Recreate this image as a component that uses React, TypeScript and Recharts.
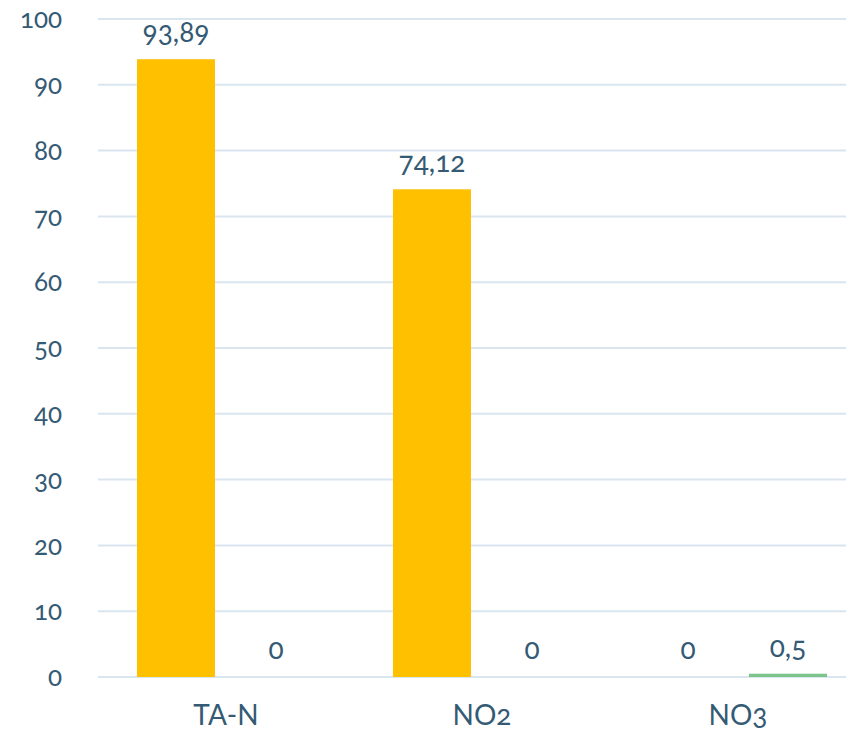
import React from "react";
import { BarChart, Bar, XAxis, YAxis, CartesianGrid, LabelList } from "recharts";

const categories = ["TA-N", "NO2", "NO3"];
const seriesA = [93.89, 74.12, 0];
const seriesB = [0, 0, 0.5];
const yTicks = [0, 10, 20, 30, 40, 50, 60, 70, 80, 90, 100];

const data = categories.map((name, i) => ({ name, a: seriesA[i], b: seriesB[i] }));

const textColor = "#345A74";
const font = "Lato, 'Open Sans', sans-serif";

const fmt = (v: any) => String(v).replace(".", ",");

// zero-valued bars still need their "0" label, so give them 1px and draw nothing
const zeroMin = (v: any) => (v === 0 ? 1 : 0);
const BarShape = (props: any) => {
  const { x, y, width, height, fill, value } = props;
  const v = Array.isArray(value) ? value[1] - value[0] : value;
  if (!v) return <g />;
  return <rect x={x} y={y} width={width} height={height} fill={fill} />;
};

export default function App() {
  return (
    <div
      style={{
        position: "absolute",
        left: 0,
        top: 0,
        width: 846,
        height: 732,
        overflow: "hidden",
        background: "#fff",
        fontFamily: font,
        fontVariantNumeric: "oldstyle-nums",
      }}
    >
      <BarChart
        width={866}
        height={732}
        data={data}
        margin={{ top: 19, right: 0, bottom: 0, left: 0 }}
        barSize={78}
        barGap={22}
      >
        <CartesianGrid vertical={false} stroke="#D9E6EF" strokeWidth={2} />
        <XAxis
          dataKey="name"
          height={55}
          axisLine={false}
          tickLine={false}
          tickMargin={22}
          tick={{ fill: textColor, fontSize: 28, fontFamily: font }}
        />
        <YAxis
          width={98}
          domain={[0, 100]}
          ticks={yTicks}
          interval={0}
          axisLine={false}
          tickLine={false}
          tickMargin={30}
          tick={{ fill: textColor, fontSize: 26, fontFamily: font }}
        />
        <Bar
          dataKey="a"
          fill="#FFC000"
          minPointSize={zeroMin}
          shape={BarShape}
          isAnimationActive={false}
        >
          <LabelList
            dataKey="a"
            position="top"
            offset={17}
            formatter={fmt}
            style={{ fill: textColor, fontSize: 28, fontFamily: font }}
          />
        </Bar>
        <Bar
          dataKey="b"
          fill="#7DC38C"
          minPointSize={zeroMin}
          shape={BarShape}
          isAnimationActive={false}
        >
          <LabelList
            dataKey="b"
            position="top"
            offset={17}
            formatter={fmt}
            style={{ fill: textColor, fontSize: 28, fontFamily: font }}
          />
        </Bar>
      </BarChart>
    </div>
  );
}
